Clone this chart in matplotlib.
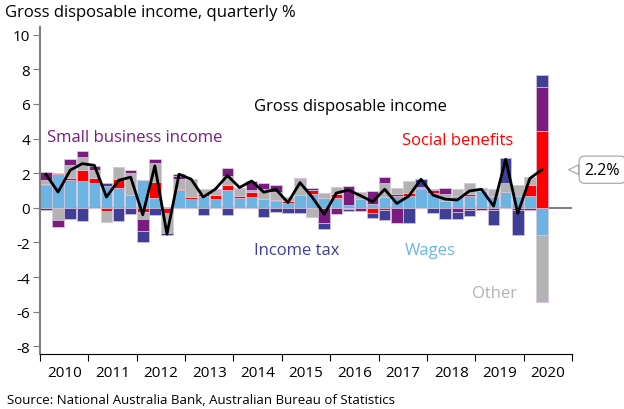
import numpy as np
import matplotlib.pyplot as plt

plt.rcParams['font.family'] = ['Open Sans', 'DejaVu Sans']

# quarterly contributions, 2010 Q1 .. 2020 Q2 (percentage points)
years = [str(y) for y in range(2010, 2021)]
wages = [1.31, 1.95, 1.58, 1.54, 1.43, 1.27, 1.16, 0.75, 1.60, 0.56, 0.00, 1.05,
         0.48, 0.67, 0.50, 1.02, 0.55, 0.60, 0.52, 0.38, 0.30, 0.72, 0.78, 0.59,
         0.59, 0.18, 0.52, 0.20, 0.65, 0.68, 0.68, 1.07, 0.88, 0.40, 0.68, 0.68,
         0.97, 0.65, 0.90, 0.67, 0.68, -1.57]
social = [0.05, 0.07, 0.12, 0.62, 0.29, -0.17, 0.52, 0.00, -0.22, 0.92, -0.28, 0.04,
          0.16, 0.10, 0.22, 0.30, 0.15, 0.30, 0.00, 0.07, 0.10, 0.00, 0.22, 0.00,
          0.19, 0.00, 0.00, -0.30, -0.13, 0.10, 0.15, 0.09, 0.17, 0.00, 0.00, 0.10,
          0.00, 0.05, 0.00, -0.10, 0.62, 4.44]
other = [0.25, -0.73, 0.79, 0.77, 0.46, -0.67, 0.69, 1.27, -0.42, 1.12, -1.15, 0.60,
         1.04, 0.29, 0.30, 0.50, 0.37, 0.15, 0.55, 0.44, 0.20, 0.96, -0.52, 0.28,
         0.42, -0.05, 0.38, 0.00, 0.80, 0.35, 0.72, 0.00, 0.00, 0.38, 0.42, 0.67,
         0.20, 0.40, 0.55, 0.63, 0.50, -3.85]
small_biz = [0.48, -0.37, 0.31, 0.35, 0.26, 0.00, 0.00, 0.14, -0.72, 0.23, 0.05, 0.15,
             0.00, 0.00, 0.08, 0.45, 0.10, 0.50, 0.35, 0.43, 0.00, 0.06, 0.17, -0.86,
             -0.38, 1.06, -0.19, 0.77, 0.35, -0.87, 0.00, 0.05, 0.05, 0.39, -0.25, -0.10,
             -0.10, -0.15, 0.00, 0.00, 0.00, 2.51]
income_tax = [-0.10, 0.00, -0.62, -0.75, 0.00, 0.18, -0.79, -0.37, -0.64, -0.39, -0.12, 0.12,
              0.00, -0.44, 0.00, -0.39, 0.00, 0.00, -0.52, -0.25, -0.32, -0.29, 0.00, -0.38,
              0.00, -0.15, 0.00, -0.30, -0.55, 0.00, -0.86, 0.45, -0.33, -0.67, -0.42, -0.37,
              0.00, -0.85, 1.41, -1.50, -0.13, 0.73]
total = [1.93, 0.91, 2.17, 2.55, 2.45, 0.62, 1.59, 1.77, -0.40, 2.42, -1.52, 1.94,
         1.65, 0.62, 1.08, 1.86, 1.17, 1.55, 0.90, 1.07, 0.30, 1.45, 0.62, -0.38,
         0.85, 1.03, 0.70, 0.35, 1.07, 0.25, 0.68, 1.65, 0.73, 0.50, 0.45, 0.97,
         1.07, 0.10, 2.80, -0.32, 1.70, 2.20]

series = [
    ('Wages', wages, '#6cb4e2'),
    ('Social benefits', social, '#ff0000'),
    ('Other', other, '#b3b3b3'),
    ('Small business income', small_biz, '#7a1c7e'),
    ('Income tax', income_tax, '#3e3f95'),
]

x = np.arange(len(total)) + 0.5

fig = plt.figure(figsize=(6.24, 4.10), dpi=100)
ax = fig.add_axes([0.064, 0.134, 0.853, 0.798])

pos_base = np.zeros(len(x))
neg_base = np.zeros(len(x))
for name, vals, col in series:
    v = np.array(vals)
    pos = np.where(v > 0, v, 0)
    neg = np.where(v < 0, v, 0)
    ax.bar(x, pos, bottom=pos_base, width=0.95, color=col,
           edgecolor='#d9c6dd', linewidth=0.5, zorder=2)
    ax.bar(x, neg, bottom=neg_base, width=0.95, color=col,
           edgecolor='#d9c6dd', linewidth=0.5, zorder=2)
    pos_base += pos
    neg_base += neg

ax.axhline(0, color='#7f7f7f', lw=1.5, zorder=1)
ax.plot(x, total, color='black', lw=2, zorder=3)

# axes styling
ax.set_xlim(0, 44)
ax.set_ylim(-8.45, 10.45)
ax.set_yticks(np.arange(-8, 11, 2))
ax.set_yticklabels([str(v) for v in range(-8, 11, 2)], fontsize=11)
ax.set_xticks(np.arange(0, 45, 4))
ax.set_xticklabels([])
ax.set_xticks(np.arange(2, 44, 4), minor=True)
ax.set_xticklabels(years, minor=True, fontsize=11)
ax.tick_params(axis='x', which='minor', length=0, pad=8)
ax.tick_params(axis='x', which='major', length=5, color='black')
ax.tick_params(axis='y', length=5, color='#7f7f7f', pad=2)
for s in ['top', 'right']:
    ax.spines[s].set_visible(False)
ax.spines['left'].set_color('#7f7f7f')
ax.spines['left'].set_linewidth(1.5)
ax.spines['bottom'].set_color('black')

# series labels
ax.text(25.7, 5.9, 'Gross disposable income', fontsize=12, color='black',
        ha='center', va='center')
ax.text(0.6, 4.1, 'Small business income', fontsize=12, color='#7a1c7e',
        ha='left', va='center')
ax.text(34.5, 3.9, 'Social benefits', fontsize=12, color='#ff0000',
        ha='center', va='center')
ax.text(21.2, -2.45, 'Income tax', fontsize=12, color='#3e3f95',
        ha='center', va='center')
ax.text(32.3, -2.45, 'Wages', fontsize=12, color='#6cb4e2',
        ha='center', va='center')
ax.text(37.6, -4.9, 'Other', fontsize=12, color='#b3b3b3',
        ha='center', va='center')

# callout for latest value
ax.annotate(f'{total[-1]:.1f}%', xy=(43.7, total[-1]), xytext=(46.5, total[-1]),
            fontsize=11.5, ha='center', va='center', annotation_clip=False,
            bbox=dict(boxstyle='round,pad=0.35', fc='white', ec='#a0a0a0', lw=0.8),
            arrowprops=dict(arrowstyle='wedge,tail_width=0.6', fc='white',
                            ec='#a0a0a0', lw=0.8, shrinkA=0, shrinkB=0))

fig.text(0.008, 0.968, 'Gross disposable income, quarterly %', fontsize=12,
         ha='left', va='center')
fig.text(0.011, 0.022, 'Source: National Australia Bank, Australian Bureau of Statistics',
         fontsize=9.5, ha='left', va='center')

fig.savefig('out.png', dpi=100)
